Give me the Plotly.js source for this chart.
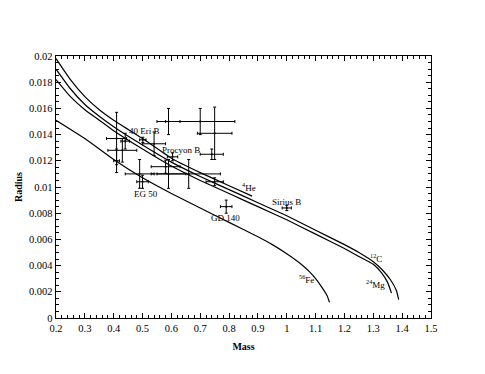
<!DOCTYPE html>
<html>
<head>
<meta charset="utf-8">
<script src="https://cdn.plot.ly/plotly-3.0.1.min.js"></script>
<style>
  html, body { margin: 0; padding: 0; background: #fff; }
  #chart-wd { width: 485px; height: 374px; }
</style>
</head>
<body>
<div id="chart-wd"></div>
<script>
// mass-radius curves (Hamada-Salpeter style)
var massHe = [0.2, 0.25, 0.3, 0.35, 0.4, 0.5, 0.6, 0.7, 0.8, 0.88];
var radiusHe = [0.0198, 0.0182, 0.0169, 0.0159, 0.0151, 0.0137, 0.0122, 0.0111, 0.0101, 0.0093];

var massC = [0.2, 0.25, 0.3, 0.35, 0.4, 0.5, 0.6, 0.7, 0.8, 0.9, 1.0, 1.1, 1.2, 1.25, 1.3, 1.33, 1.36, 1.38, 1.388];
var radiusC = [0.0190, 0.0175, 0.0163, 0.0154, 0.0146, 0.0132, 0.0119, 0.0108, 0.0098, 0.0088, 0.0078, 0.0067, 0.0056, 0.0050, 0.0043, 0.0037, 0.0029, 0.0021, 0.0014];

var massMg = [0.2, 0.25, 0.3, 0.35, 0.4, 0.5, 0.6, 0.7, 0.8, 0.9, 1.0, 1.1, 1.2, 1.25, 1.3, 1.33, 1.35, 1.363];
var radiusMg = [0.0182, 0.0169, 0.0159, 0.0151, 0.0143, 0.0129, 0.0116, 0.0105, 0.0095, 0.0085, 0.0075, 0.0064, 0.0053, 0.0047, 0.0041, 0.0034, 0.0027, 0.0019];

var massFe = [0.2, 0.3, 0.4, 0.5, 0.6, 0.7, 0.8, 0.9, 0.95, 1.0, 1.05, 1.08, 1.1, 1.12, 1.14, 1.148];
var radiusFe = [0.0151, 0.0137, 0.0121, 0.0107, 0.0095, 0.0084, 0.0073, 0.0062, 0.0056, 0.0049, 0.0041, 0.0035, 0.0030, 0.0024, 0.0017, 0.0012];

// observed white dwarfs with error bars
var obsMass = [0.59, 0.70, 0.75, 0.74, 0.604, 0.501, 0.54, 0.41, 0.43, 0.41, 0.44, 0.50, 0.49, 0.59, 0.66, 0.58, 0.75, 0.79, 1.00];
var obsRadius = [0.0150, 0.0150, 0.0141, 0.0125, 0.0123, 0.0136, 0.0133, 0.0137, 0.0128, 0.0120, 0.0135, 0.0104, 0.0110, 0.0110, 0.0110, 0.01155, 0.0104, 0.0085, 0.0084];
var obsMassErr = [0.04, 0.12, 0.06, 0.04, 0.018, 0.011, 0.04, 0.035, 0.05, 0.01, 0.015, 0.02, 0.05, 0.06, 0.11, 0.05, 0.03, 0.02, 0.016];
var obsRadiusErr = [0.0010, 0.0010, 0.0020, 0.0004, 0.0003, 0.0002, 0.0009, 0.0020, 0.0009, 0.0009, 0.0006, 0.0005, 0.0011, 0.0011, 0.0011, 0.0005, 0.0003, 0.0005, 0.0002];

// labels
var labelText = ['40 Eri B', 'Procyon B', 'EG 50', 'GD 140', 'Sirius B', '<sup>4</sup>He', '<sup>12</sup>C', '<sup>24</sup>Mg', '<sup>56</sup>Fe'];
var labelMass = [0.507, 0.632, 0.511, 0.789, 0.999, 0.869, 1.309, 1.308, 1.07];
var labelRadius = [0.0143, 0.01282, 0.00947, 0.00763, 0.00888, 0.0100, 0.00458, 0.0026, 0.00294];

var serif = 'Liberation Serif, Times New Roman, serif';

function curve(x, y) {
    return {
        x: x, y: y,
        type: 'scatter', mode: 'lines',
        line: {color: 'black', width: 1.2, shape: 'spline', smoothing: 0.4},
        hoverinfo: 'skip'
    };
}

var obs = {
    x: obsMass, y: obsRadius,
    type: 'scatter', mode: 'markers',
    marker: {color: 'black', size: 2},
    error_x: {type: 'data', array: obsMassErr, visible: true, color: 'black', thickness: 1, width: 1.5},
    error_y: {type: 'data', array: obsRadiusErr, visible: true, color: 'black', thickness: 1, width: 1.5}
};

var annotations = [];
for (var i = 0; i < labelText.length; i++) {
    annotations.push({
        x: labelMass[i], y: labelRadius[i], xref: 'x', yref: 'y',
        text: labelText[i], showarrow: false,
        font: {family: serif, size: 9, color: 'black'}
    });
}

var layout = {
    width: 485, height: 374,
    margin: {l: 56, r: 54, t: 56, b: 56},
    paper_bgcolor: 'white', plot_bgcolor: 'white',
    showlegend: false,
    font: {family: serif, color: 'black', size: 10},
    xaxis: {
        range: [0.2, 1.5], dtick: 0.1, tick0: 0.2,
        ticks: 'inside', ticklen: 5, tickcolor: 'black', tickwidth: 1,
        minor: {dtick: 0.02, ticks: 'inside', ticklen: 3, tickcolor: 'black'},
        showline: true, linecolor: 'black', linewidth: 1.3, mirror: 'ticks',
        showgrid: false, zeroline: false,
        tickfont: {family: serif, size: 10.5},
        title: {text: '<b>Mass</b>', font: {family: serif, size: 10}, standoff: 10}
    },
    yaxis: {
        range: [0, 0.02], dtick: 0.002, tick0: 0,
        ticks: 'inside', ticklen: 5, tickcolor: 'black', tickwidth: 1,
        minor: {dtick: 0.0005, ticks: 'inside', ticklen: 3, tickcolor: 'black'},
        showline: true, linecolor: 'black', linewidth: 1.3, mirror: 'ticks',
        showgrid: false, zeroline: false,
        tickfont: {family: serif, size: 10.5},
        title: {text: '<b>Radius</b>', font: {family: serif, size: 10}, standoff: 4}
    },
    annotations: annotations
};

var data = [curve(massHe, radiusHe), curve(massC, radiusC), curve(massMg, radiusMg), curve(massFe, radiusFe), obs];
Plotly.newPlot('chart-wd', data, layout, {displayModeBar: false, staticPlot: true});
</script>
</body>
</html>
